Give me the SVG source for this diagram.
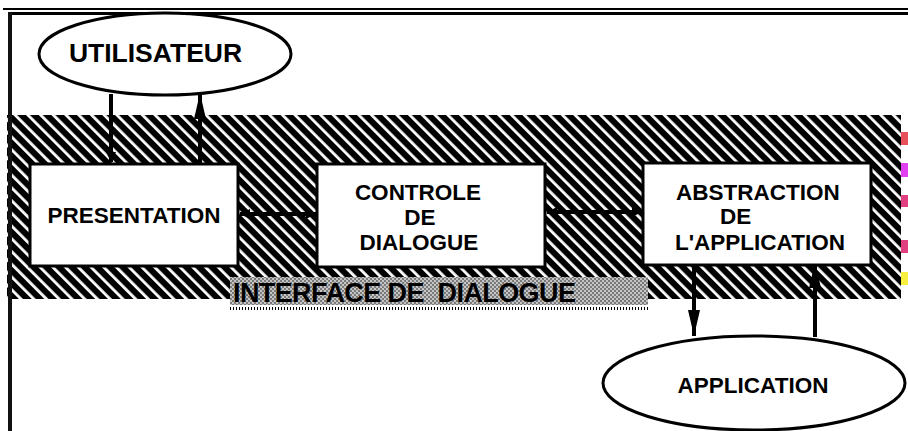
<svg xmlns="http://www.w3.org/2000/svg" width="908" height="431" viewBox="0 0 908 431">
<defs>
<style>
.box{fill:#fff;stroke:#000;stroke-width:3}
.ell{fill:#fff;stroke:#000;stroke-width:3}
.t{font-family:"Liberation Sans",Arial,sans-serif;font-weight:bold;font-size:22.5px;fill:#000}
.con{stroke:#000;stroke-width:4;fill:none}
</style>
<pattern id="hatch" width="9" height="9" patternUnits="userSpaceOnUse" patternTransform="rotate(-45)">
<rect width="9" height="9" fill="#000"/>
<rect x="0" y="0" width="2.8" height="9" fill="#fff"/>
</pattern>
<pattern id="check" width="4" height="4" patternUnits="userSpaceOnUse">
<rect width="4" height="4" fill="#c4c4c4"/>
<rect x="0" y="0" width="2" height="2" fill="#7a7a7a"/>
<rect x="2" y="2" width="2" height="2" fill="#7a7a7a"/>
</pattern>
<marker id="ah" viewBox="0 0 10 20" refX="10" refY="10" markerWidth="10" markerHeight="20" markerUnits="userSpaceOnUse" orient="auto-start-reverse">
<path d="M0,5 L10,10 L0,15 Z" fill="#000"/>
</marker>
<marker id="ahl" viewBox="0 0 26 12" refX="26" refY="6" markerWidth="26" markerHeight="12" markerUnits="userSpaceOnUse" orient="auto-start-reverse">
<path d="M0,0 L26,6 L0,12 Z" fill="#000"/>
</marker>
</defs>
<rect width="908" height="431" fill="#fff"/>

<g id="frame">
<line x1="3" y1="9" x2="908" y2="9" stroke="#000" stroke-width="2"/>
<line x1="8" y1="13.5" x2="908" y2="13.5" stroke="#000" stroke-width="3"/>
</g>

<g id="interface-band">
<rect x="7" y="115" width="894" height="184" fill="url(#hatch)"/>
<rect x="901" y="132" width="7" height="13" fill="#e8505a"/>
<rect x="901" y="163" width="7" height="14" fill="#e040f0"/>
<rect x="901" y="195" width="7" height="12" fill="#e0407f"/>
<rect x="901" y="240" width="7" height="13" fill="#e0407f"/>
<rect x="901" y="272" width="7" height="13" fill="#f8f040"/>
</g>
<line x1="10" y1="12" x2="10" y2="431" stroke="#111" stroke-width="4"/>

<g id="connectors">
<line class="con" x1="111" y1="94" x2="111" y2="162" marker-end="url(#ah)"/>
<line class="con" x1="200" y1="163" x2="200" y2="93" marker-end="url(#ahl)"/>
<line class="con" x1="240" y1="214" x2="316" y2="214" marker-start="url(#ah)" marker-end="url(#ah)"/>
<line class="con" x1="547" y1="212" x2="642" y2="212" marker-start="url(#ah)" marker-end="url(#ah)"/>
<line class="con" x1="694" y1="266" x2="694" y2="336" marker-end="url(#ahl)"/>
<line class="con" x1="815" y1="337" x2="815" y2="262" marker-end="url(#ahl)"/>
</g>

<g id="utilisateur">
<ellipse class="ell" cx="165" cy="54" rx="126" ry="41"/>
<text class="t" x="155.5" y="62" text-anchor="middle" style="font-size:26.5px">UTILISATEUR</text>
</g>

<g id="presentation">
<rect class="box" x="30" y="164" width="208" height="102"/>
<text class="t" x="134" y="223" text-anchor="middle">PRESENTATION</text>
</g>

<g id="controle">
<rect class="box" x="317" y="164" width="228" height="103"/>
<text class="t" text-anchor="middle"><tspan x="418" y="200">CONTROLE</tspan><tspan x="420" y="225">DE</tspan><tspan x="419" y="250">DIALOGUE</tspan></text>
</g>

<g id="abstraction">
<rect class="box" x="643" y="163" width="228" height="102"/>
<text class="t"><tspan x="676" y="200">ABSTRACTION</tspan><tspan x="720" y="224">DE</tspan><tspan x="675" y="250">L'APPLICATION</tspan></text>
</g>

<g id="application">
<ellipse class="ell" cx="754" cy="383" rx="151" ry="47"/>
<text class="t" x="753" y="393" text-anchor="middle">APPLICATION</text>
</g>

<g id="interface-label">
<rect x="230" y="277" width="418" height="28" fill="url(#check)"/>
<line x1="230" y1="308.5" x2="648" y2="308.5" stroke="#000" stroke-width="3" stroke-dasharray="1 2"/>
<text class="t" x="233" y="302" style="font-size:27px;letter-spacing:-0.6px" xml:space="preserve">INTERFACE DE  DIALOGUE</text>
</g>
</svg>
